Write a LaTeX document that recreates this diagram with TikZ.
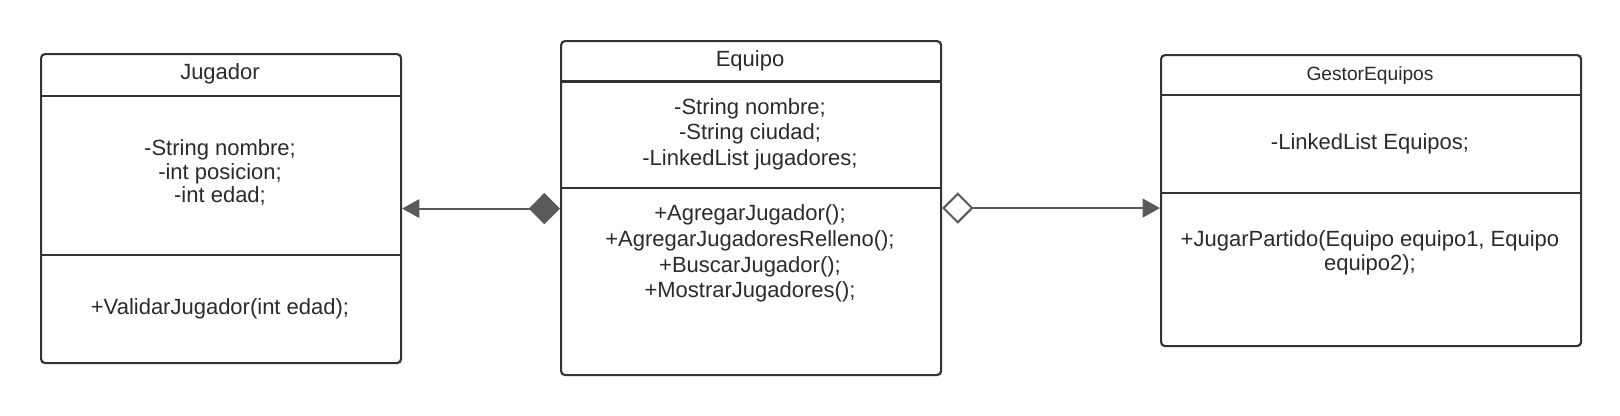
\documentclass[tikz,border=0pt]{standalone}
\usepackage{fontspec}
\setmainfont{Liberation Sans}
\usetikzlibrary{arrows.meta}
\definecolor{boxline}{HTML}{333333}
\definecolor{connc}{HTML}{5A5A5A}
\definecolor{txt}{HTML}{2B2B2B}
\begin{document}
\begin{tikzpicture}[x=0.75pt,y=-0.75pt,
  umlbox/.style={draw=boxline, line width=1.6pt, rounded corners=3pt, fill=white, rectangle, inner sep=0pt, anchor=north west},
  divider/.style={draw=boxline, line width=1.6pt},
  lbl/.style={text=txt, inner sep=0pt, align=center, font=\fontsize{16.5}{17.85}\selectfont},
  lblwide/.style={text=txt, inner sep=0pt, align=center, font=\fontsize{16.5}{19.35}\selectfont},
  lblsmall/.style={text=txt, inner sep=0pt, align=center, font=\fontsize{14.4}{16}\selectfont},
  connline/.style={draw=connc, line width=1.5pt},
]
\fill[white] (0,0) rectangle (1620,415);
\useasboundingbox (0,0) rectangle (1620,415);

% boxes
\node[umlbox, minimum width=270pt, minimum height=231.75pt] (jug) at (40,53) {};
\node[umlbox, minimum width=285pt, minimum height=250.5pt] (equ) at (560,40) {};
\node[umlbox, minimum width=315pt, minimum height=218.25pt] (ges) at (1160,54) {};

% dividers
\draw[divider] (jug.west |- 0,96) -- (jug.east |- 0,96);
\draw[divider] (jug.west |- 0,255) -- (jug.east |- 0,255);
\draw[divider] (equ.west |- 0,81.5) -- (equ.east |- 0,81.5);
\draw[divider] (equ.west |- 0,188) -- (equ.east |- 0,188);
\draw[divider] (ges.west |- 0,95) -- (ges.east |- 0,95);
\draw[divider] (ges.west |- 0,192.7) -- (ges.east |- 0,192.7);

% Jugador texts
\node[lbl] (jugT) at (220,74.3) {Jugador};
\node[lbl] (jugA) at (220,172.5) {-String nombre;\\-int posicion;\\-int edad;};
\node[lbl] (jugM) at (220,308.8) {+ValidarJugador(int edad);};

% Equipo texts
\node[lbl] (equT) at (750,60.9) {Equipo};
\node[lblwide] (equA) at (750,134.2) {-String nombre;\\-String ciudad;\\-LinkedList jugadores;};
\node[lblwide] (equM) at (750,253.5) {+AgregarJugador();\\+AgregarJugadoresRelleno();\\+BuscarJugador();\\+MostrarJugadores();};

% GestorEquipos texts
\node[lblsmall] (gesT) at (1370,75.3) {GestorEquipos};
\node[lbl] (gesA) at (1370,143.5) {-LinkedList Equipos;};
\node[lbl] (gesM) at (1370,252.5) {+JugarPartido(Equipo equipo1, Equipo\\equipo2);};

% connectors
\draw[connline, {Triangle[length=13pt,width=14pt]}-{Diamond[length=23.5pt,width=23.5pt,fill=connc]}] (jug.east) -- (jug.east -| equ.west);
\draw[connline, {Diamond[open,length=23.5pt,width=23.5pt,fill=white]}-{Triangle[length=13pt,width=14pt]}] (equ.east) -- (equ.east -| ges.west);
\end{tikzpicture}
\end{document}
